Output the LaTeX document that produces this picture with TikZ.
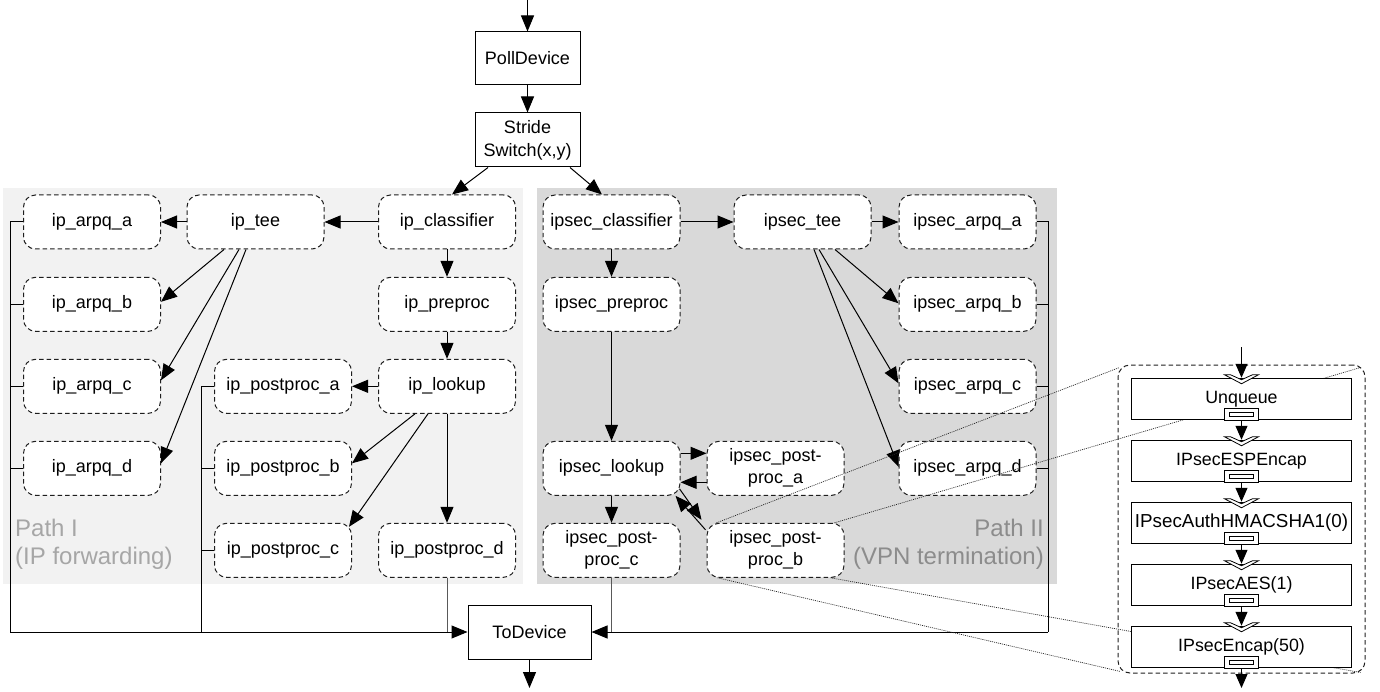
\documentclass[tikz,border=0pt]{standalone}
\usepackage{fontspec}
\setmainfont{Liberation Sans}
\usetikzlibrary{arrows.meta,calc}
\definecolor{panelA}{RGB}{242,242,242}
\definecolor{panelB}{RGB}{217,217,217}
\definecolor{labelA}{RGB}{166,166,166}
\definecolor{labelB}{RGB}{140,140,140}
\definecolor{edgegray}{RGB}{30,30,30}
\begin{document}
\begin{tikzpicture}[x=1pt,y=-1pt,
  elem/.style={draw=edgegray, dash pattern=on 4.5pt off 3pt, rounded corners=12pt, fill=white,
    minimum width=137pt, minimum height=54pt, inner sep=0pt, align=center,
    font=\fontsize{18}{22}\selectfont, line width=1pt},
  devbox/.style={draw=black, fill=white, line width=1pt, inner sep=0pt, align=center,
    font=\fontsize{18}{23}\selectfont, minimum height=54pt},
  cbox/.style={draw=black, fill=white, line width=1pt, inner sep=0pt,
    minimum width=220pt, minimum height=41.5pt, font=\fontsize{17.8}{20}\selectfont},
  conn/.style={line width=1pt, -{Triangle[length=16pt,width=13pt]}},
  sconn/.style={line width=1pt, -{Triangle[length=14pt,width=12pt]}},
  bus/.style={line width=1pt},
  graybus/.style={line width=1pt, draw=black!65},
  zoomline/.style={line width=0.7pt, dash pattern=on 1pt off 1pt, draw=black!85},
  pathlbl/.style={font=\fontsize{24}{29}\selectfont, inner sep=0pt},
  port/.style={draw=black, fill=white, line width=0.8pt}
]
\useasboundingbox (0,0) rectangle (1380,692);

% background panels of the two paths
\fill[panelA] (3,188) rectangle (523,584);
\fill[panelB] (537,188) rectangle (1057,584);

\node[pathlbl, anchor=base west, text=labelA] (pIa) at (15,536) {Path I};
\node[pathlbl, anchor=base west, text=labelA] (pIb) at (15,564) {(IP forwarding)};
\node[pathlbl, anchor=base east, text=labelB] (pIIa) at (1044,536) {Path II};
\node[pathlbl, anchor=base east, text=labelB] (pIIb) at (1044,564) {(VPN termination)};

% device elements
\node[devbox, minimum width=105pt, minimum height=53pt] (poll) at (527.5,58.5) {PollDevice};
\node[devbox, minimum width=105pt] (stride) at (527.5,140) {Stride\\Switch(x,y)};
\node[devbox, minimum width=123pt] (todev) at (529.5,632) {ToDevice};

% path I
\node[elem] (ipaa) at (92,222) {ip\_arpq\_a};
\node[elem] (ipab) at (92,304.3) {ip\_arpq\_b};
\node[elem] (ipac) at (92,386.3) {ip\_arpq\_c};
\node[elem] (ipad) at (92,468.3) {ip\_arpq\_d};
\node[elem] (iptee) at (255.5,222) {ip\_tee};
\node[elem] (ipcl) at (447,222) {ip\_classifier};
\node[elem] (ippre) at (447,304.3) {ip\_preproc};
\node[elem] (iplk) at (447,386.3) {ip\_lookup};
\node[elem] (ippa) at (283,386.3) {ip\_postproc\_a};
\node[elem] (ippb) at (283,468.3) {ip\_postproc\_b};
\node[elem] (ippc) at (283,550.3) {ip\_postproc\_c};
\node[elem] (ippd) at (447,550.3) {ip\_postproc\_d};

% path II
\node[elem] (iscl) at (611.5,222) {ipsec\_classifier};
\node[elem] (ispre) at (611.5,304.3) {ipsec\_preproc};
\node[elem] (islk) at (611.5,468.3) {ipsec\_lookup};
\node[elem] (ispc) at (611.5,550.3) {ipsec\_post-\\proc\_c};
\node[elem] (istee) at (802.5,222) {ipsec\_tee};
\node[elem] (isaa) at (967.5,222) {ipsec\_arpq\_a};
\node[elem] (isab) at (967.5,304.3) {ipsec\_arpq\_b};
\node[elem] (isac) at (967.5,386.3) {ipsec\_arpq\_c};
\node[elem] (isad) at (967.5,468.3) {ipsec\_arpq\_d};
\node[elem] (ispa) at (775.5,468.3) {ipsec\_post-\\proc\_a};
\node[elem] (ispb) at (775.5,550.3) {ipsec\_post-\\proc\_b};

% input side
\coordinate (devin) at (527.5,0);
\draw[conn] (devin) -- (poll.north);
\draw[conn] (poll.south) -- (stride.north);
\draw[conn] ($(stride.south)+(-39.5,0)$) -- ($(ipcl.north)+(5,0)$);
\draw[conn] ($(stride.south)+(42.5,0)$) -- ($(iscl.north)+(-9.5,0)$);

% path I connections
\draw[conn] (ipcl) -- (iptee);
\draw[conn] (iptee) -- (ipaa);
\draw[conn] ($(iptee.south)+(-31.5,0)$) -- ($(ipab.east)+(0,-2.5)$);
\draw[conn] ($(iptee.south)+(-16.5,0)$) -- ($(ipac.east)+(0,-6)$);
\draw[conn] ($(iptee.south)+(-9.5,0)$) -- ($(ipad.east)+(0,-5)$);
\draw[conn] (ipcl) -- (ippre);
\draw[conn] (ippre) -- (iplk);
\draw[conn] (iplk) -- (ippa);
\draw[conn] ($(iplk.south)+(-32,0)$) -- ($(ippb.east)+(0,-5)$);
\draw[conn] ($(iplk.south)+(-19,0)$) -- ($(ippc.north east)+(-3,4)$);
\draw[conn] (iplk) -- (ippd);

% path II connections
\draw[conn] (iscl) -- (istee);
\draw[conn] (istee) -- (isaa);
\draw[conn] ($(istee.south)+(32.5,0)$) -- ($(isab.west)+(0,-1)$);
\draw[conn] ($(istee.south)+(16.5,0)$) -- ($(isac.west)+(0,-3)$);
\draw[conn] ($(istee.south)+(11.5,0)$) -- ($(isad.west)+(0,-1.5)$);
\draw[conn] (iscl) -- (ispre);
\draw[conn] (ispre) -- (islk);
\draw[conn] (islk) -- (ispc);
\draw[conn] ($(islk.east)+(0,-15)$) -- ($(ispa.west)+(0,-15)$);
\draw[conn] ($(ispa.west)+(0,14)$) -- ($(islk.east)+(0,14)$);
\draw[conn] ($(islk.south east)+(-1,-7)$) -- ($(ispb.north west)+(-5,-3)$);
\draw[conn] ($(ispb.north west)+(-1,7)$) -- ($(islk.south east)+(-5,0)$);

% collecting lines into ToDevice
\coordinate (busL) at (10,632);
\coordinate (busM) at (201.7,632);
\coordinate (busR) at (1048,632);
\draw[bus] (ipaa.west) -| (busL);
\draw[bus] (ipab.west) -- (ipab.west -| busL);
\draw[bus] (ipac.west) -- (ipac.west -| busL);
\draw[bus] (ipad.west) -- (ipad.west -| busL);
\draw[bus] (ippa.west) -| (busM);
\draw[bus] (ippb.west) -- (ippb.west -| busM);
\draw[bus] (ippc.west) -- (ippc.west -| busM);
\draw[graybus] (ippd.south) -- (ippd.south |- todev.west);
\draw[conn] (busL) -- (todev.west);
\draw[bus] (isaa.east) -| (busR);
\draw[bus] (isab.east) -- (isab.east -| busR);
\draw[bus] (isac.east) -- (isac.east -| busR);
\draw[bus] (isad.east) -- (isad.east -| busR);
\draw[graybus] (ispc.south) -- (ispc.south |- todev.east);
\draw[conn] (busR) -- (todev.east);
\coordinate (devout) at (529.5,688);
\draw[conn] (todev.south) -- (devout);

% detail of ipsec_post-proc_b
\node[draw=edgegray, dash pattern=on 4.5pt off 3pt, rounded corners=12pt, line width=1pt,
  minimum width=247pt, minimum height=308pt, inner sep=0pt] (co) at (1241.5,519) {};
\draw[zoomline] ($(ispb.north west)+(10,0)$) -- ($(co.north west)+(2,3)$);
\draw[zoomline] ($(ispb.north east)+(-10,0)$) -- ($(co.north east)+(-5,3)$);
\draw[zoomline] ($(ispb.south west)+(11,0)$) -- ($(co.south west)+(3,-2)$);
\draw[zoomline] ($(ispb.south east)+(-14,0)$) -- ($(co.south east)+(-5,-1)$);

\node[cbox] (c1) at (1241.5,399) {\raisebox{3pt}{Unqueue}};
\node[cbox] (c2) at (1241.5,461) {\raisebox{3pt}{IPsecESPEncap}};
\node[cbox] (c3) at (1241.5,523) {\raisebox{3pt}{\fontsize{18.8}{20}\selectfont IPsecAuthHMACSHA1(0)}};
\node[cbox] (c4) at (1241.5,585) {\raisebox{3pt}{IPsecAES(1)}};
\node[cbox] (c5) at (1241.5,647) {\raisebox{3pt}{IPsecEncap(50)}};

\foreach \c in {c1,c2,c3,c4,c5}{
  \draw[port] ($(\c.south)+(-17,0)$) rectangle ($(\c.south)+(17,-12)$);
  \draw[port] ($(\c.south)+(-12,-4)$) rectangle ($(\c.south)+(12,-8)$);
  \draw[port] ($(\c.north)+(-17,-3)$) -- ($(\c.north)+(0,6)$) -- ($(\c.north)+(17,-3)$)
    -- ($(\c.north)+(11,-3)$) -- ($(\c.north)+(0,2)$) -- ($(\c.north)+(-11,-3)$) -- cycle;
}
\coordinate (cin) at (1241.5,347);
\coordinate (cout) at (1241.5,688);
\draw[sconn] (cin) -- (c1.north);
\draw[sconn] (c1.south) -- (c2.north);
\draw[sconn] (c2.south) -- (c3.north);
\draw[sconn] (c3.south) -- (c4.north);
\draw[sconn] (c4.south) -- (c5.north);
\draw[sconn] (c5.south) -- (cout);
\end{tikzpicture}
\end{document}
